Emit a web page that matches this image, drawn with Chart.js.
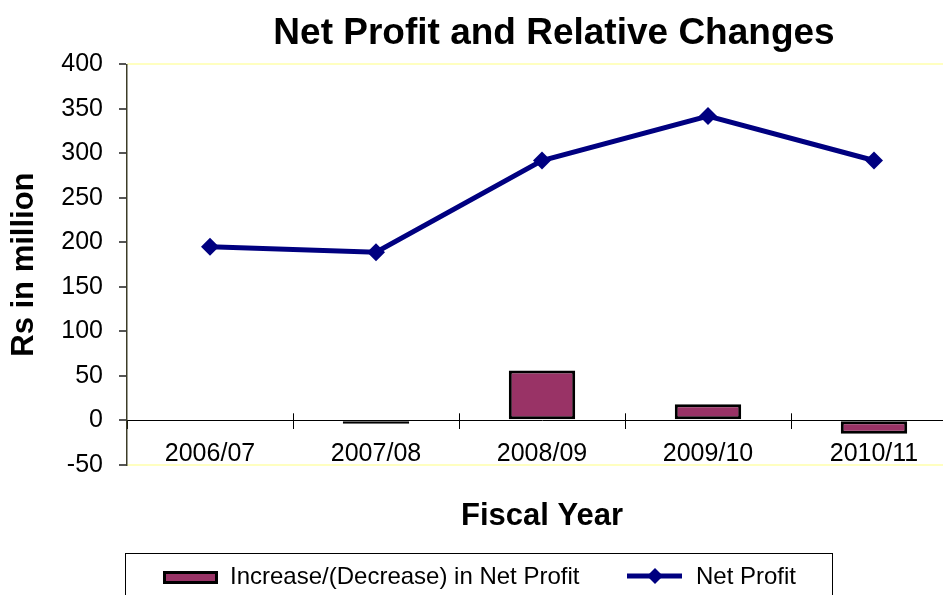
<!DOCTYPE html>
<html>
<head>
<meta charset="utf-8">
<title>Net Profit and Relative Changes</title>
<script src="https://cdn.jsdelivr.net/npm/chart.js@4.4.1/dist/chart.umd.min.js"></script>
<style>
  html, body { margin: 0; padding: 0; background: #fff; overflow: hidden; }
  #wrap { width: 1108px; height: 620px; }
</style>
</head>
<body>
<div id="wrap"><canvas id="mycanvas" width="1108" height="620"></canvas></div>
<script>
var fiscalYears = ['2006/07', '2007/08', '2008/09', '2009/10', '2010/11'];
var netProfit = [195, 189, 292, 342, 292];      // Rs in million
var profitChange = [null, -4, 56, 18, -15];     // increase/(decrease), %
var yTicks = [-50, 0, 50, 100, 150, 200, 250, 300, 350, 400];

var barColor = '#993366';
var lineColor = '#000080';
var fontFamily = '"Liberation Sans", Arial, Helvetica, sans-serif';

// legend in a framed box under the axis title
var boxLegend = {
  id: 'boxLegend',
  afterDraw: function(chart) {
    var ctx = chart.ctx;
    ctx.save();
    ctx.strokeStyle = '#000';
    ctx.lineWidth = 1;
    ctx.strokeRect(125.5, 553.5, 707, 90);

    // bar swatch
    ctx.fillStyle = barColor;
    ctx.fillRect(163, 571, 55, 13);
    ctx.lineWidth = 3;
    ctx.strokeRect(164.5, 572.5, 52, 10);

    // line swatch with diamond
    ctx.strokeStyle = lineColor;
    ctx.lineWidth = 5;
    ctx.beginPath();
    ctx.moveTo(627, 576);
    ctx.lineTo(682, 576);
    ctx.stroke();
    ctx.fillStyle = lineColor;
    ctx.beginPath();
    ctx.moveTo(655, 568);
    ctx.lineTo(663, 576);
    ctx.lineTo(655, 584);
    ctx.lineTo(647, 576);
    ctx.closePath();
    ctx.fill();

    ctx.fillStyle = '#000';
    ctx.font = '24px ' + fontFamily;
    ctx.textBaseline = 'middle';
    ctx.textAlign = 'left';
    ctx.fillText('Increase/(Decrease) in Net Profit', 230, 577);
    ctx.fillText('Net Profit', 696, 577);
    ctx.restore();
  }
};

// short tick marks above the zero line at the category boundaries
var upTicks = {
  id: 'upTicks',
  afterDatasetsDraw: function(chart) {
    var xs = chart.scales.x;
    var y0 = chart.scales.y.getPixelForValue(0);
    var ctx = chart.ctx;
    ctx.save();
    ctx.strokeStyle = '#000';
    ctx.lineWidth = 1;
    ctx.beginPath();
    for (var i = 1; i < fiscalYears.length; i++) {
      var bx = Math.round((xs.getPixelForValue(i - 1) + xs.getPixelForValue(i)) / 2) + 0.5;
      ctx.moveTo(bx, y0 - 7);
      ctx.lineTo(bx, y0);
    }
    ctx.stroke();
    ctx.restore();
  }
};

var chartdata = {
  labels: fiscalYears,
  datasets: [
    {
      type: 'bar',
      label: 'Increase/(Decrease) in Net Profit',
      data: profitChange,
      backgroundColor: barColor,
      borderColor: '#000',
      borderWidth: 3,
      borderSkipped: false,
      categoryPercentage: 1,
      barPercentage: 0.4,
      order: 1
    },
    {
      type: 'line',
      label: 'Net Profit',
      data: netProfit,
      borderColor: lineColor,
      backgroundColor: lineColor,
      borderWidth: 5,
      tension: 0,
      pointStyle: 'rectRot',
      pointRadius: 9,
      pointHoverRadius: 10,
      pointBorderWidth: 0,
      order: 0
    }
  ]
};

var ctx = document.getElementById('mycanvas');

var comboChart = new Chart(ctx, {
  data: chartdata,
  plugins: [boxLegend, upTicks],
  options: {
    responsive: false,
    animation: false,
    layout: { padding: { left: 0, right: 0, top: 0, bottom: 70 } },
    scales: {
      x: {
        type: 'category',
        position: { y: 0 },
        offset: true,
        border: { display: true, color: '#000', width: 1 },
        grid: {
          offset: true,
          drawOnChartArea: false,
          drawTicks: true,
          tickLength: 8,
          tickColor: '#000'
        },
        ticks: {
          color: '#000',
          padding: 11,
          maxRotation: 0,
          font: { family: fontFamily, size: 25 }
        }
      },
      y: {
        min: yTicks[0],
        max: yTicks[yTicks.length - 1],
        afterFit: function(scale) { scale.width = 127; },
        border: { display: true, color: '#3c3c28', width: 1.5 },
        grid: {
          color: function(c) {
            var v = c.tick ? c.tick.value : null;
            return (v === yTicks[0] || v === yTicks[yTicks.length - 1]) ? '#ffffc0' : 'rgba(0,0,0,0)';
          },
          lineWidth: 2,
          tickColor: '#555',
          tickLength: 8
        },
        ticks: {
          stepSize: yTicks[1] - yTicks[0],
          color: '#000',
          padding: 16,
          font: { family: fontFamily, size: 25 }
        },
        title: {
          display: true,
          text: 'Rs in million',
          color: '#000',
          padding: { top: 6, bottom: 0 },
          font: { family: fontFamily, size: 31, weight: 'bold' }
        }
      },
      // empty axis on the right keeps the plot wide while the title stays centred on the page
      yPad: {
        type: 'linear',
        position: 'right',
        afterFit: function(scale) { scale.width = 151; },
        border: { display: false },
        grid: { display: false },
        ticks: { display: false }
      }
    },
    plugins: {
      legend: { display: false },
      title: {
        display: true,
        text: 'Net Profit and Relative Changes',
        color: '#000',
        padding: { top: 12, bottom: 8 },
        font: { family: fontFamily, size: 37, weight: 'bold' }
      },
      subtitle: {
        display: true,
        position: 'bottom',
        fullSize: false,
        text: 'Fiscal Year',
        color: '#000',
        padding: { top: 33, bottom: 15 },
        font: { family: fontFamily, size: 31, weight: 'bold' }
      },
      tooltip: {
        enabled: true
      }
    }
  }
});
</script>
</body>
</html>
